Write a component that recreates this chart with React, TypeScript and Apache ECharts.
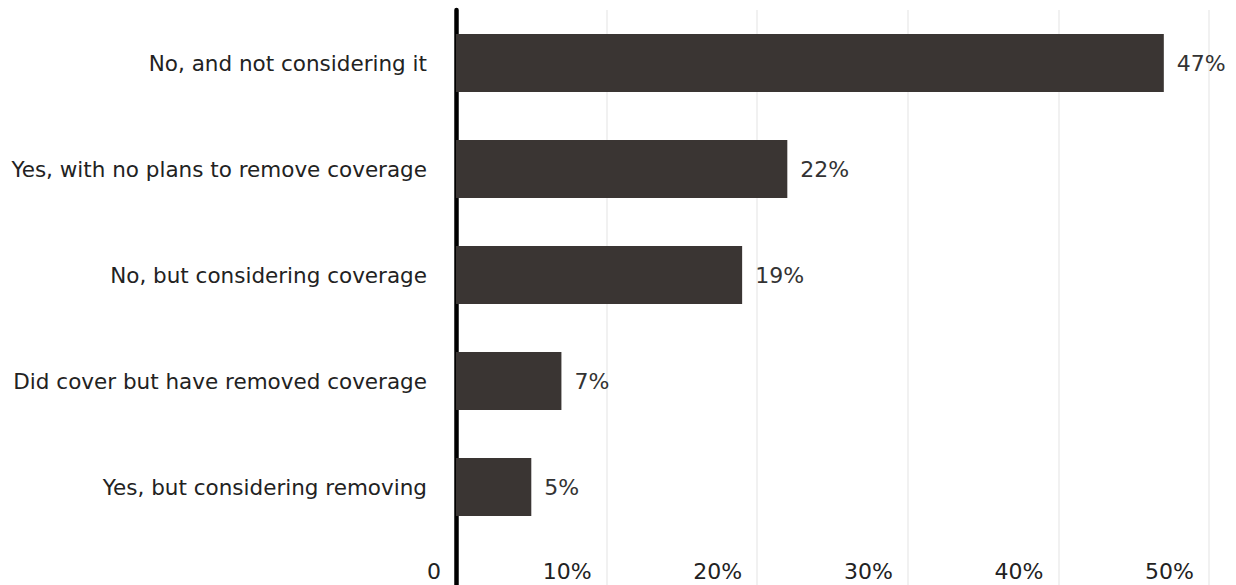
import React, { useEffect, useRef } from "react";
import * as echarts from "echarts";

const categories = [
  "No, and not considering it",
  "Yes, with no plans to remove coverage",
  "No, but considering coverage",
  "Did cover but have removed coverage",
  "Yes, but considering removing",
];
const values = [47, 22, 19, 7, 5];
const xMin = 0;
const xMax = 50;
const xInterval = 10;

export default function App() {
  const ref = useRef<HTMLDivElement>(null);
  useEffect(() => {
    if (!ref.current) return;
    const chart = echarts.init(ref.current, undefined, { renderer: "svg" });
    const font = "'DejaVu Sans', sans-serif";
    chart.setOption({
      animation: false,
      backgroundColor: "#ffffff",
      grid: [
        { left: 456, right: 27, top: 10, bottom: 45 },
        { left: 456, right: 27, top: 10, bottom: 0 },
      ],
      xAxis: [
        { gridIndex: 0, type: "value", min: xMin, max: xMax, interval: xInterval, show: false },
        {
          gridIndex: 1,
          type: "value",
          min: xMin,
          max: xMax,
          interval: xInterval,
          axisLine: { show: false },
          axisTick: { show: false },
          splitLine: { show: true, lineStyle: { color: "#ececec", width: 1.5 } },
          axisLabel: {
            inside: true,
            margin: 3,
            align: "right",
            padding: [0, 15, 0, 0],
            fontFamily: font,
            fontSize: 22,
            color: "#222",
            formatter: (v: number) => (v === 0 ? "0" : v + "%"),
          },
        },
      ],
      yAxis: [
        {
          gridIndex: 0,
          type: "category",
          data: categories,
          inverse: true,
          axisLine: { show: false },
          axisTick: { show: false },
          axisLabel: {
            margin: 29,
            fontFamily: font,
            fontSize: 21.5,
            color: "#222",
          },
        },
        {
          gridIndex: 1,
          type: "value",
          min: 0,
          max: 1,
          offset: 3,
          axisLine: { show: true, lineStyle: { color: "#000", width: 4.5 } },
          axisTick: { show: false },
          axisLabel: { show: false },
          splitLine: { show: false },
        },
      ],
      series: [
        {
          type: "bar",
          xAxisIndex: 0,
          yAxisIndex: 0,
          data: values,
          barWidth: 58,
          itemStyle: { color: "#3a3533" },
          label: {
            show: true,
            position: "right",
            distance: 13,
            formatter: "{c}%",
            fontFamily: font,
            fontSize: 22,
            color: "#333",
          },
        },
      ],
    });
    return () => chart.dispose();
  }, []);
  return (
    <div
      ref={ref}
      style={{ position: "fixed", left: 0, top: 0, width: 1236, height: 585 }}
    />
  );
}
